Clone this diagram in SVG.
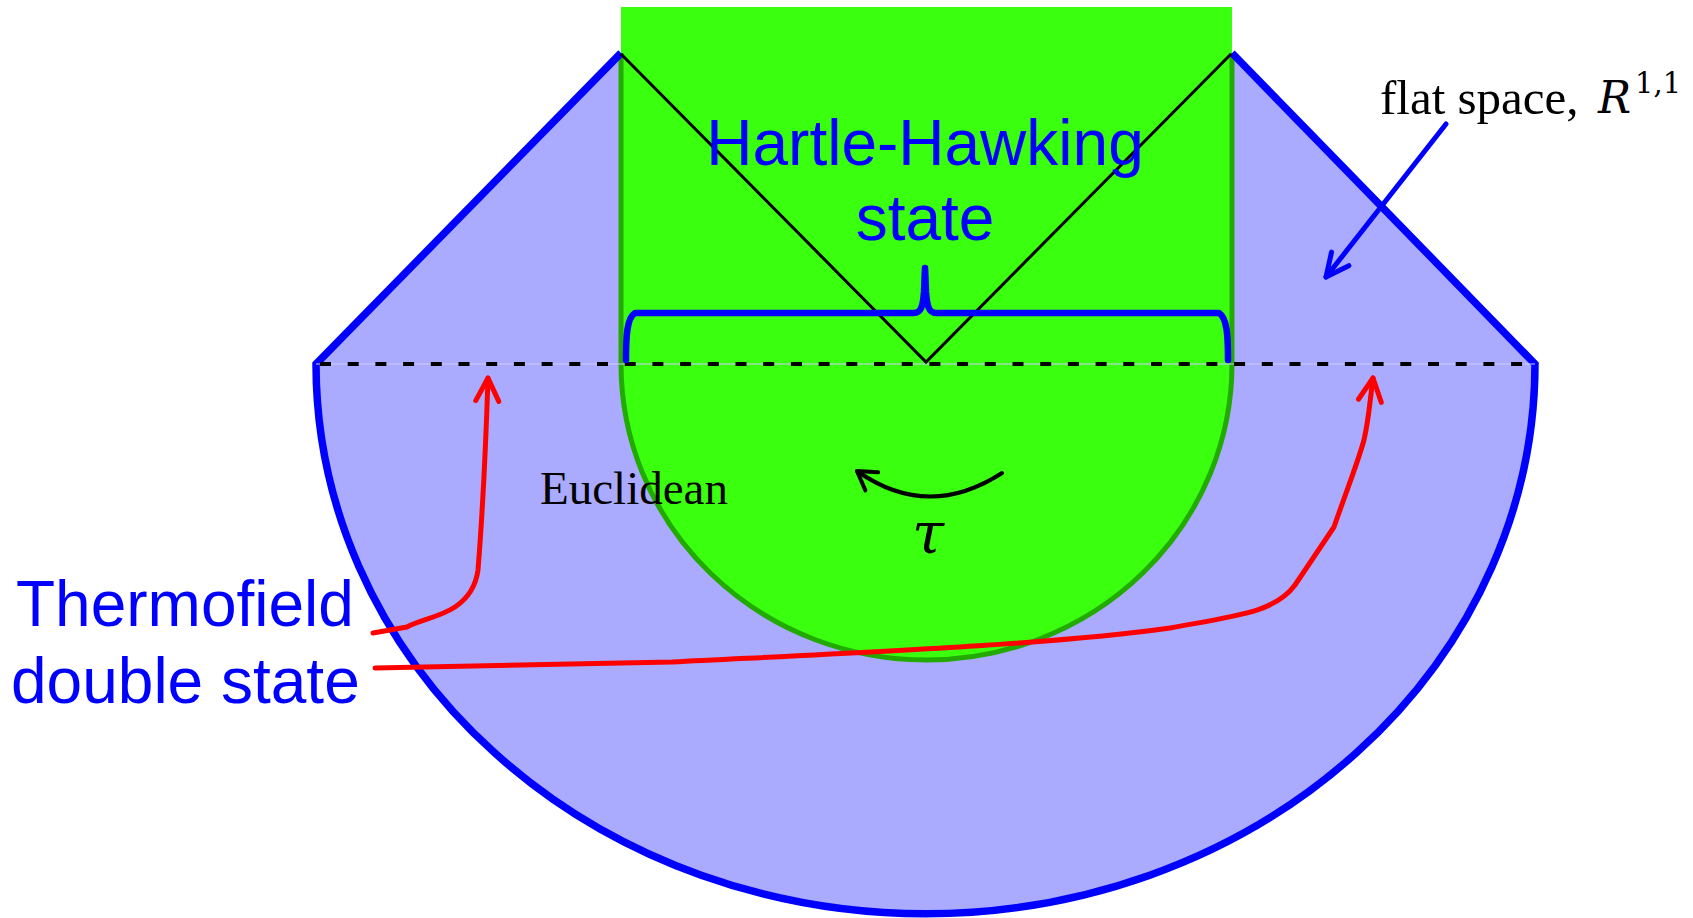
<svg xmlns="http://www.w3.org/2000/svg" width="1693" height="918" viewBox="0 0 1693 918">
<style>
.sans{font-family:"Liberation Sans",Arial,sans-serif;fill:#0000ff;font-size:64px}
.serif{font-family:"Liberation Serif","Times New Roman",serif;fill:#000}
.math{font-family:"DejaVu Serif",serif;fill:#000}
.red{fill:none;stroke:#ff0000;stroke-width:5;stroke-linecap:round;stroke-linejoin:round}
</style>
<defs>
<marker id="ahRed" markerUnits="userSpaceOnUse" markerWidth="40" markerHeight="40" viewBox="-30 -20 40 40" refX="0" refY="0" orient="auto">
<path d="M-23,-11.5 L0,0 L-23,11.5" fill="none" stroke="#ff0000" stroke-width="5" stroke-linecap="round" stroke-linejoin="round"/>
</marker>
<marker id="ahBlue" markerUnits="userSpaceOnUse" markerWidth="40" markerHeight="40" viewBox="-30 -20 40 40" refX="0" refY="0" orient="auto">
<path d="M-23,-11 L0,0 L-23,11" fill="none" stroke="#0000ff" stroke-width="5" stroke-linecap="round" stroke-linejoin="round"/>
</marker>
<marker id="ahBlack" markerUnits="userSpaceOnUse" markerWidth="40" markerHeight="40" viewBox="-30 -20 40 40" refX="0" refY="0" orient="auto">
<path d="M-18,-11 L0,0 L-18,11" fill="none" stroke="#000" stroke-width="4" stroke-linecap="round" stroke-linejoin="round"/>
</marker>
</defs>
<rect width="1693" height="918" fill="#fff"/>
<g id="flat-space-region">
<path d="M316,364 L621,53 L1232,53 L1535,364 A609.5,550 0 0 1 316,364 Z" fill="#aaaaff"/>
</g>
<g id="hartle-hawking-region">
<path d="M621,7 L1232,7 L1232,364 A305.5,296 0 0 1 621,364 Z" fill="#3aff0e"/>
<path d="M621,53 L621,364 A305.5,296 0 0 0 1232,364 L1232,53" fill="none" stroke="#22aa00" stroke-width="5"/>
</g>
<g id="boundary">
<path d="M621,53 L316,364 A609.5,550 0 0 0 1535,364 L1232,53" fill="none" stroke="#0000ff" stroke-width="7.5" stroke-linejoin="miter"/>
<line x1="316" y1="364" x2="1535" y2="364" stroke="#ccccff" stroke-width="1.2"/>
<line x1="320" y1="364" x2="1535" y2="364" stroke="#000" stroke-width="4" stroke-dasharray="11 16.7"/>
</g>
<g id="lightcone">
<path d="M621,54 L926,362 L1231,54" fill="none" stroke="#000" stroke-width="3"/>
</g>
<g id="brace">
<path d="M626,360 C626,335 627,318 635,313 L914,313 C921,313 923,306 924,292 L925,268 M1228,360 C1228,335 1227,318 1219,313 L936,313 C929,313 927,306 926,292 L925,268" fill="none" stroke="#0000ff" stroke-width="6.5" stroke-linecap="round" stroke-linejoin="round"/>
</g>
<g id="label-hh">
<text class="sans" x="925" y="165" text-anchor="middle">Hartle-Hawking</text>
<text class="sans" x="925" y="240" text-anchor="middle">state</text>
</g>
<g id="label-tfd">
<text class="sans" x="16" y="626">Thermofield</text>
<text class="sans" x="11" y="703">double state</text>
</g>
<g id="label-euclidean">
<text class="serif" x="540" y="504" font-size="47">Euclidean</text>
</g>
<g id="label-flat">
<text class="serif" x="1380" y="114" font-size="49">flat space,</text>
<text class="math" x="1598" y="113" font-size="44" font-style="italic">R</text>
<text class="math" x="1635" y="93" font-size="29">1,1</text>
</g>
<g id="label-tau">
<text class="math" x="928" y="553" font-size="58" font-style="italic" text-anchor="middle">τ</text>
</g>
<g id="connectors">
<path class="red" d="M373,633 L407,627 C420,620 440,617 455,607 C470,597 476,585 478,570 C482,520 486,440 488,378" marker-end="url(#ahRed)"/>
<path class="red" d="M375,668 L672,662 C850,653 1050,645 1170,628 C1240,615 1275,612 1295,585 L1334,527 C1345,495 1358,462 1364,440 C1369,418 1370,400 1373,378" marker-end="url(#ahRed)"/>
<path d="M1446,124 L1326,277" fill="none" stroke="#0000ff" stroke-width="5" stroke-linecap="round" marker-end="url(#ahBlue)"/>
<path d="M1002,473 Q928,521 857,471" fill="none" stroke="#000" stroke-width="4" stroke-linecap="round" marker-end="url(#ahBlack)"/>
</g>
</svg>
